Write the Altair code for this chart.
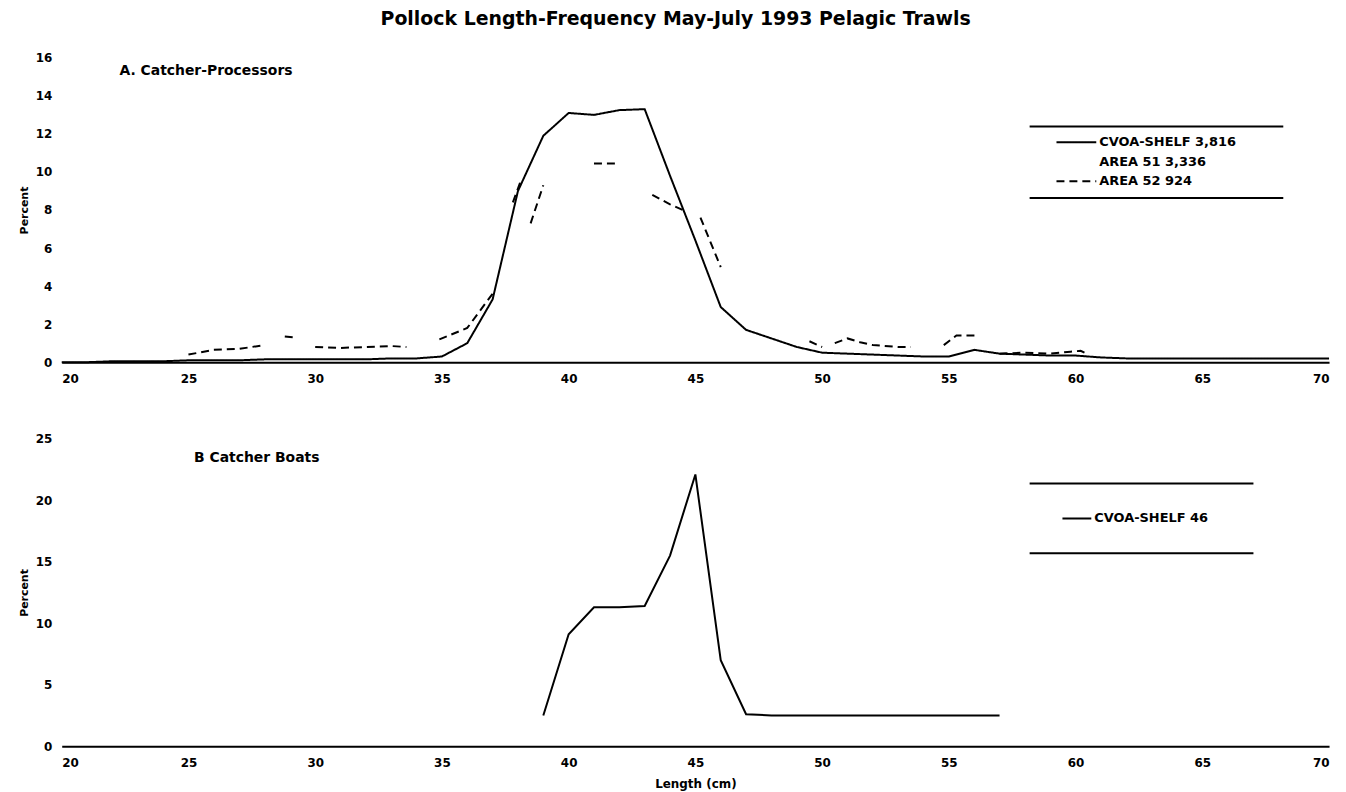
import altair as alt
import pandas as pd

FONT = "DejaVu Sans"
TITLE = "Pollock Length-Frequency  May-July 1993  Pelagic Trawls"
PANEL_A = "A. Catcher-Processors"
PANEL_B = "B  Catcher Boats"
X_TITLE = "Length (cm)"
Y_TITLE = "Percent"

X_TICKS = [20, 25, 30, 35, 40, 45, 50, 55, 60, 65, 70]
Y_TICKS_A = [0, 2, 4, 6, 8, 10, 12, 14, 16]
Y_TICKS_B = [0, 5, 10, 15, 20, 25]

SERIES_A = ["CVOA-SHELF 3,816", "AREA 51 3,336", "AREA 52 924"]
SERIES_B = ["CVOA-SHELF 46"]

# Panel A, solid line: CVOA-SHELF
cvoa_a_len = list(range(20, 71))
cvoa_a_pct = [0.0, 0.0, 0.05, 0.05, 0.05, 0.1, 0.1, 0.1, 0.15, 0.15,
              0.15, 0.15, 0.15, 0.2, 0.2, 0.3, 1.0, 3.3, 9.0, 11.9,
              13.1, 13.0, 13.25, 13.3, 9.8, 6.4, 2.9, 1.7, 1.25, 0.8,
              0.5, 0.45, 0.4, 0.35, 0.3, 0.3, 0.65, 0.45, 0.4, 0.35,
              0.35, 0.25, 0.2, 0.2, 0.2, 0.2, 0.2, 0.2, 0.2, 0.2, 0.2]

# Panel A, dashed line: AREA 52 (broken in the original print; None = gap)
area52_len = [25, 26, 27, 28, None,
              28.8, 29.2, None,
              30, 31, 32, 33, 33.6, None,
              34.9, 36, 37, None,
              37.8, 38.1, None,
              38.5, 39, None,
              41, 42, None,
              43.3, 44, 44.5, None,
              45.2, 46, None,
              49.5, 50, None,
              50.5, 51, 51.5, 52, 53, 53.5, None,
              54.8, 55.3, 56.2, None,
              57, 58, 59, 59.8, 60.2, 60.5]
area52_pct = [0.4, 0.65, 0.7, 0.9, None,
              1.35, 1.3, None,
              0.8, 0.75, 0.8, 0.85, 0.8, None,
              1.2, 1.8, 3.6, None,
              8.4, 9.5, None,
              7.3, 9.3, None,
              10.45, 10.45, None,
              8.8, 8.3, 8.0, None,
              7.6, 5.0, None,
              1.1, 0.8, None,
              1.0, 1.25, 1.05, 0.9, 0.8, 0.8, None,
              0.9, 1.4, 1.4, None,
              0.45, 0.5, 0.45, 0.55, 0.6, 0.4]

# Panel B: CVOA-SHELF
cvoa_b_len = list(range(39, 58))
cvoa_b_pct = [2.5, 9.1, 11.3, 11.3, 11.4, 15.5, 22.1, 7.0, 2.6, 2.5,
              2.5, 2.5, 2.5, 2.5, 2.5, 2.5, 2.5, 2.5, 2.5]

W, H_A, H_B = 1274, 306, 309
SOLID, DASH = [1, 0], [8, 5]

rows = []
for l, p in zip(cvoa_a_len, cvoa_a_pct):
    rows.append({"length": l, "pct": p, "series": SERIES_A[0], "seg": 0})
seg = 1
for l, p in zip(area52_len, area52_pct):
    if l is None:
        seg += 1
        continue
    rows.append({"length": l, "pct": p, "series": SERIES_A[2], "seg": seg})
df_a = pd.DataFrame(rows)
df_b = pd.DataFrame({"length": cvoa_b_len, "pct": cvoa_b_pct,
                     "series": SERIES_B[0], "seg": 0})
one = pd.DataFrame({"k": [0]})


def x_enc(title):
    return alt.X(
        "length:Q",
        scale=alt.Scale(domain=[20, 70], nice=False, zero=False),
        axis=alt.Axis(values=X_TICKS, title=title, ticks=False, grid=False,
                      domain=True, domainWidth=2, domainColor="black",
                      labelPadding=11, labelFontSize=12, labelFont=FONT,
                      labelFontWeight="bold", labelColor="black", format="d",
                      titleFont=FONT, titleFontSize=12, titleFontWeight="bold",
                      titleColor="black", titlePadding=11),
    )


def y_enc(ticks):
    return alt.Y(
        "pct:Q",
        scale=alt.Scale(domain=[ticks[0], ticks[-1]], nice=False),
        axis=alt.Axis(values=ticks, title=Y_TITLE, ticks=False, grid=False,
                      domain=False, labelPadding=10, labelFontSize=12,
                      labelFont=FONT, labelFontWeight="bold",
                      labelColor="black", titleFont=FONT, titleFontSize=11,
                      titleFontWeight="bold", titleColor="black",
                      titlePadding=6),
    )


def rule(x1, x2, y, dash=None):
    kw = {"strokeDash": dash} if dash else {}
    return alt.Chart(one).mark_rule(color="black", strokeWidth=2, **kw).encode(
        x=alt.value(x1), x2=alt.value(x2), y=alt.value(y))


def label(text, x, y, size=14):
    return alt.Chart(one).mark_text(
        text=text, align="left", baseline="middle", font=FONT, fontSize=size,
        fontWeight="bold", color="black").encode(x=alt.value(x), y=alt.value(y))


def key(names, dashes, x1, x2, y0, step, box_x1, box_x2, box_y1, box_y2):
    """Boxed key drawn as in the original: a rule above and below the entries."""
    layers = [rule(box_x1, box_x2, box_y1), rule(box_x1, box_x2, box_y2)]
    for i, (name, dash) in enumerate(zip(names, dashes)):
        y = y0 + i * step
        if dash is not None:
            layers.append(rule(x1, x2, y, dash))
        layers.append(label(name, x2 + 3, y, 13))
    return layers


lines_a = alt.Chart(df_a).mark_line(strokeWidth=2, color="black").encode(
    x=x_enc(None),
    y=y_enc(Y_TICKS_A),
    strokeDash=alt.StrokeDash("series:N", scale=alt.Scale(
        domain=[SERIES_A[0], SERIES_A[2]], range=[SOLID, DASH]), legend=None),
    detail="seg:N",
)
panel_a = alt.layer(
    lines_a,
    *key(SERIES_A, [SOLID, None, DASH], 1000, 1040, 85, 19.5, 973, 1228, 69, 141),
    label(PANEL_A, 58, 13),
).properties(width=W, height=H_A)

lines_b = alt.Chart(df_b).mark_line(strokeWidth=2, color="black").encode(
    x=x_enc(X_TITLE),
    y=y_enc(Y_TICKS_B),
    detail="seg:N",
)
panel_b = alt.layer(
    lines_b,
    *key(SERIES_B, [SOLID], 1006, 1035, 80, 0, 973, 1198, 45, 115),
    label(PANEL_B, 133, 19),
).properties(width=W, height=H_B)

chart = alt.vconcat(panel_a, panel_b, spacing=49).properties(
    title=alt.TitleParams(TITLE, font=FONT, fontSize=19, fontWeight="bold",
                          color="black", anchor="middle", offset=23),
    padding={"left": 10, "top": 0, "right": 5, "bottom": 2},
    background="white",
).configure_view(strokeWidth=0, stroke="transparent")

chart.save("out.html", embed_options={"renderer": "svg", "actions": False})
